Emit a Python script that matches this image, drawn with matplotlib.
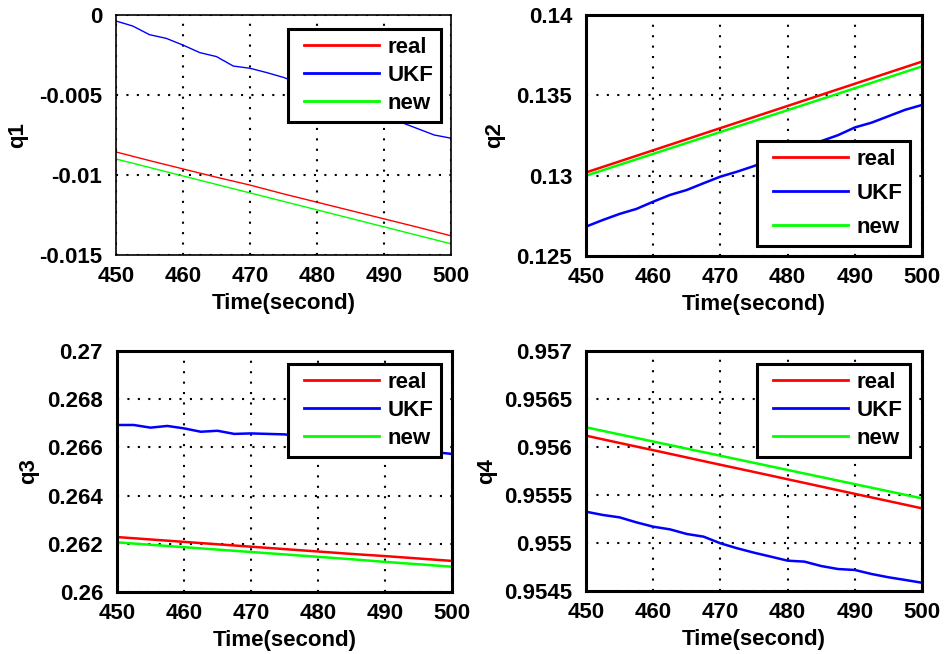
import matplotlib
matplotlib.use('Agg')
import matplotlib.pyplot as plt

plt.rcParams['font.family'] = ['Liberation Sans', 'DejaVu Sans']
plt.rcParams['font.weight'] = 'bold'
plt.rcParams['font.size'] = 16

# time axes (seconds)
t_fine = [450, 452.5, 455, 457.5, 460, 462.5, 465, 467.5, 470, 472.5, 475,
          477.5, 480, 482.5, 485, 487.5, 490, 492.5, 495, 497.5, 500]
t_coarse = [450, 455, 460, 465, 470, 475, 480, 485, 490, 495, 500]

# q1
q1_real = [-0.00856, -0.00910, -0.00962, -0.01014, -0.01063, -0.01118,
           -0.01170, -0.01222, -0.01274, -0.01326, -0.01380]
q1_new = [-0.00900, -0.00953, -0.01006, -0.01059, -0.01112, -0.01165,
          -0.01218, -0.01271, -0.01324, -0.01377, -0.01430]
q1_ukf = [-0.000375, -0.00069, -0.00123, -0.00146, -0.00188, -0.00235, -0.0026,
          -0.00319, -0.00333, -0.0036, -0.0039, -0.0043, -0.0047, -0.0051,
          -0.0055, -0.0059, -0.0063, -0.0067, -0.0071, -0.0075, -0.0077]

# q2
q2_real = [0.1302, 0.13089, 0.13158, 0.13227, 0.13296, 0.13365,
           0.13434, 0.13503, 0.13572, 0.13641, 0.1371]
q2_new = [0.1300, 0.13068, 0.13136, 0.13204, 0.13272, 0.1334,
          0.13408, 0.13476, 0.13544, 0.13612, 0.1368]
q2_ukf = [0.12683, 0.12724, 0.12762, 0.12793, 0.12838, 0.1288, 0.12911,
          0.12953, 0.12994, 0.13025, 0.1306, 0.13099, 0.13138, 0.13177,
          0.13215, 0.13252, 0.1330, 0.1333, 0.1337, 0.1341, 0.1344]

# q3
q3_real = [0.26228, 0.26218, 0.26208, 0.26198, 0.26188, 0.26178,
           0.26168, 0.26158, 0.26149, 0.26139, 0.26129]
q3_new = [0.26206, 0.26196, 0.26186, 0.26176, 0.26166, 0.26156,
          0.26146, 0.26136, 0.26125, 0.26115, 0.26105]
q3_ukf = [0.26693, 0.26693, 0.26682, 0.26689, 0.26679, 0.26665, 0.26669,
          0.26656, 0.26658, 0.26656, 0.26654, 0.26645, 0.26636, 0.26628,
          0.26619, 0.2661, 0.26602, 0.26594, 0.26586, 0.2658, 0.26573]

# q4
q4_real = [0.956118, 0.956042, 0.955967, 0.955891, 0.955815, 0.955740,
           0.955664, 0.955588, 0.955512, 0.955437, 0.955361]
q4_new = [0.956205, 0.956131, 0.956057, 0.955983, 0.955909, 0.955835,
          0.955761, 0.955687, 0.955613, 0.955539, 0.955465]
q4_ukf = [0.955326, 0.955292, 0.955267, 0.955215, 0.955170, 0.955142, 0.955094,
          0.955066, 0.954997, 0.954945, 0.954899, 0.954858, 0.954816, 0.954806,
          0.954760, 0.954729, 0.954719, 0.954677, 0.954643, 0.954615, 0.954586]

x_ticks = [450, 460, 470, 480, 490, 500]
y_ticks = [
    [-0.015, -0.01, -0.005, 0],
    [0.125, 0.13, 0.135, 0.14],
    [0.26, 0.262, 0.264, 0.266, 0.268, 0.27],
    [0.9545, 0.955, 0.9555, 0.956, 0.9565, 0.957],
]
y_ticklabels = [
    ['-0.015', '-0.01', '-0.005', '0'],
    ['0.125', '0.13', '0.135', '0.14'],
    ['0.26', '0.262', '0.264', '0.266', '0.268', '0.27'],
    ['0.9545', '0.955', '0.9555', '0.956', '0.9565', '0.957'],
]
y_names = ['q1', 'q2', 'q3', 'q4']

series = [
    (q1_real, q1_ukf, q1_new),
    (q2_real, q2_ukf, q2_new),
    (q3_real, q3_ukf, q3_new),
    (q4_real, q4_ukf, q4_new),
]

W, H = 946, 654
fig = plt.figure(figsize=(W / 100, H / 100), dpi=100)

# axes boxes in pixels: left, top, right, bottom
boxes = [(116, 15, 451, 255), (586, 15, 922, 256),
         (117, 351, 452, 592), (586, 351, 922, 591)]
# legend anchor (pixel), loc and row spacing
leg_pos = [((441, 29), 'upper right', 0.31), ((910, 246), 'lower right', 0.58),
           ((441, 364), 'upper right', 0.31), ((910, 364), 'upper right', 0.31)]
ylabel_pad = [8, 8, 6, 5]

for i in range(4):
    l, t, r, b = boxes[i]
    ax = fig.add_axes([l / W, 1 - b / H, (r - l) / W, (b - t) / H])
    real, ukf, new = series[i]
    lw = 1.0 if i == 0 else 1.8
    frame_lw = 1.2 if i == 0 else 2.2
    ax.plot(t_coarse, real, color='#ff0000', lw=lw, label='real')
    ax.plot(t_fine, ukf, color='#0000ff', lw=lw, label='UKF')
    ax.plot(t_coarse, new, color='#00ff00', lw=lw, label='new')

    ax.set_xlim(450, 500)
    ax.set_ylim(y_ticks[i][0], y_ticks[i][-1])
    ax.set_xticks(x_ticks)
    ax.set_xticklabels([str(v) for v in x_ticks])
    ax.set_yticks(y_ticks[i])
    ax.set_yticklabels(y_ticklabels[i])
    ax.set_xlabel('Time(second)', fontweight='bold', labelpad=4)
    ax.set_ylabel(y_names[i], fontweight='bold', labelpad=ylabel_pad[i])
    ax.grid(True, color='black', linestyle=(0, (1, 4)), linewidth=1.5)
    ax.tick_params(direction='in', length=0)
    ax.tick_params(axis='x', pad=8)
    ax.tick_params(axis='y', pad=10)
    for s in ax.spines.values():
        s.set_linewidth(frame_lw)

    (px, py), loc, sp = leg_pos[i]
    anchor = ((px - l) / (r - l), (b - py) / (b - t))
    leg = ax.legend(loc=loc, bbox_to_anchor=anchor, borderaxespad=0,
                    fancybox=False, framealpha=1, edgecolor='black',
                    handlelength=3.75, handletextpad=0.36, borderpad=0.36,
                    labelspacing=sp, fontsize=16)
    leg.get_frame().set_linewidth(2.2)
    for line in leg.get_lines():
        line.set_linewidth(2.0)
        xd = [float(v) for v in line.get_xdata()]
        xd[0] = xd[0] + 6
        line.set_xdata(xd)

fig.savefig('out.png', dpi=100, facecolor='white')
